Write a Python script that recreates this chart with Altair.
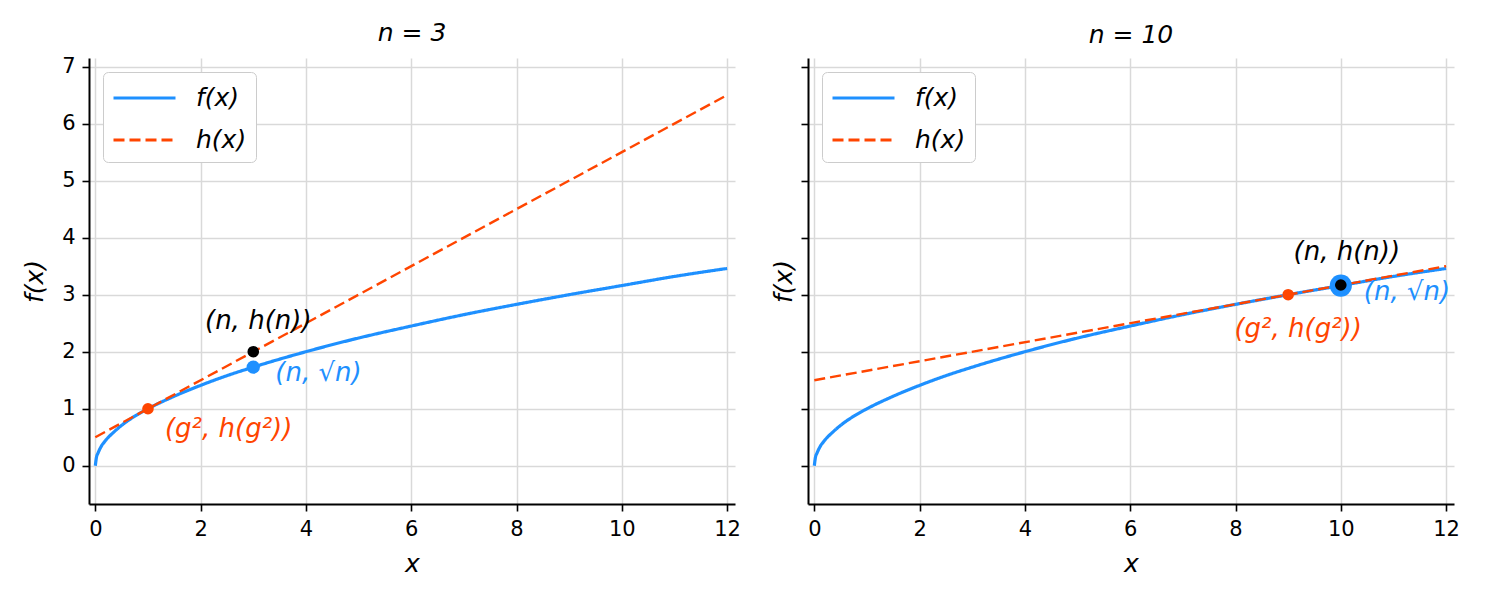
import altair as alt
import pandas as pd

# ---- data ----
curve_x = [0, 0.02, 0.05, 0.1, 0.2, 0.35, 0.5, 0.75, 1, 1.5, 2, 2.5, 3, 4, 5, 6, 7, 8, 9, 10, 11, 12]
curve_y = [0, 0.14, 0.22, 0.32, 0.45, 0.59, 0.71, 0.87, 1.0, 1.22, 1.41, 1.58, 1.73, 2.0, 2.24, 2.45, 2.65, 2.83, 3.0, 3.16, 3.32, 3.46]
tangent_x = [0, 12]
tangent_y_n3 = [0.5, 6.5]
tangent_y_n10 = [1.5, 3.5]
series_names = ["f(x)", "h(x)"]
panel_titles = ["n = 3", "n = 10"]
n_values = [3, 10]
g_sq_values = [1, 9]
h_g_sq_values = [1.0, 3.0]
sqrt_n_values = [1.73, 3.16]
h_n_values = [2.0, 3.17]
x_ticks = [0, 2, 4, 6, 8, 10, 12]
y_ticks = [0, 1, 2, 3, 4, 5, 6, 7]
label_hn = "(n, h(n))"
label_sqrt = "(n, \u221an)"
label_g = "(g\u00b2, h(g\u00b2))"

BLUE = "#1E90FF"
ORANGE = "#FF4500"
FONT = "DejaVu Sans"
W, H = 646, 446


def panel(i, tangent_y, blue_size, offs, g_align, first):
    lines = pd.DataFrame(
        [{"x": a, "y": b, "s": series_names[0]} for a, b in zip(curve_x, curve_y)]
        + [{"x": a, "y": b, "s": series_names[1]} for a, b in zip(tangent_x, tangent_y)]
    )
    pts = pd.DataFrame({
        "x": [n_values[i], g_sq_values[i], n_values[i]],
        "y": [sqrt_n_values[i], h_g_sq_values[i], h_n_values[i]],
        "k": ["n", "g", "h"],
    })
    xs = alt.Scale(domain=[-0.12, 12.15], nice=False, zero=False)
    ys = alt.Scale(domain=[-0.67, 7.15], nice=False, zero=False)
    xax = alt.Axis(values=x_ticks, title="x", grid=True, format="d")
    yax = alt.Axis(values=y_ticks, title="f(x)", grid=True, labels=first, format="d",
                   titlePadding=14 if first else 4)
    base = alt.Chart(lines)
    line = base.mark_line(interpolate="monotone").encode(
        x=alt.X("x:Q", scale=xs, axis=xax),
        y=alt.Y("y:Q", scale=ys, axis=yax),
        color=alt.Color("s:N", scale=alt.Scale(domain=series_names, range=[BLUE, ORANGE]),
                        legend=alt.Legend(title=None, orient="top-left", offset=14,
                                          labelFont=FONT, labelFontStyle="italic", labelFontSize=25,
                                          symbolType="M-1,0H3", symbolSize=961, symbolStrokeWidth=3,
                                          rowPadding=12, padding=9, labelOffset=50,
                                          strokeColor="#cccccc", fillColor="white",
                                          cornerRadius=5, labelColor="black")),
        strokeDash=alt.StrokeDash("s:N", scale=alt.Scale(domain=series_names, range=[[1, 0], [11, 5]]),
                                  legend=alt.Legend(title=None, orient="top-left", offset=14)),
        strokeWidth=alt.StrokeWidth("s:N", scale=alt.Scale(domain=series_names, range=[3.2, 2.4]), legend=None),
    )
    pb = alt.Chart(pts)
    p_blue = pb.transform_filter(alt.datum.k == "n").mark_circle(color=BLUE, opacity=1, size=blue_size).encode(
        x=alt.X("x:Q", scale=xs), y=alt.Y("y:Q", scale=ys))
    p_or = pb.transform_filter(alt.datum.k == "g").mark_circle(color=ORANGE, opacity=1, size=135).encode(
        x=alt.X("x:Q", scale=xs), y=alt.Y("y:Q", scale=ys))
    p_bk = pb.transform_filter(alt.datum.k == "h").mark_circle(color="black", opacity=1, size=135).encode(
        x=alt.X("x:Q", scale=xs), y=alt.Y("y:Q", scale=ys))

    def txt(k, text, color, dx, dy, align):
        return pb.transform_filter(alt.datum.k == k).mark_text(
            text=text, color=color, dx=dx, dy=dy, align=align, baseline="middle",
            font=FONT, fontStyle="italic", fontSize=26).encode(
            x=alt.X("x:Q", scale=xs), y=alt.Y("y:Q", scale=ys))

    t_h = txt("h", label_hn, "black", offs[0][0], offs[0][1], "center")
    t_n = txt("n", label_sqrt, BLUE, offs[1][0], offs[1][1], "left")
    t_g = txt("g", label_g, ORANGE, offs[2][0], offs[2][1], g_align)

    return alt.layer(line, p_blue, p_or, p_bk, t_h, t_n, t_g).properties(
        width=W, height=H,
        title=alt.TitleParams(panel_titles[i], font=FONT, fontSize=25, fontWeight="normal",
                              fontStyle="italic", offset=10),
    ).resolve_legend(color="shared", strokeDash="shared")


left = panel(0, tangent_y_n3, 180, [(5, -31), (22, 6), (17, 20)], "left", True)
right = panel(1, tangent_y_n10, 490, [(6, -33), (23, 6), (10, 34)], "center", False)

chart = alt.hconcat(left, right, spacing=30).resolve_legend(
    color="independent", strokeDash="independent"
).properties(padding={"left": 14, "top": 12, "right": 5, "bottom": 5}).configure_view(
    stroke=None
).configure_axis(
    domainColor="black", domainWidth=2, tickColor="black", tickWidth=1.6, tickSize=7,
    labelFont=FONT, labelFontSize=21, labelColor="black", labelPadding=7,
    titleFont=FONT, titleFontSize=25, titleFontStyle="italic", titleFontWeight="normal", titleColor="black",
    gridColor="#d9d9d9", gridWidth=1.5,
).configure_axisX(titlePadding=12).configure_legend(
    strokeColor="#cccccc"
)

chart.save("out.html", embed_options={"renderer": "svg", "actions": False})
